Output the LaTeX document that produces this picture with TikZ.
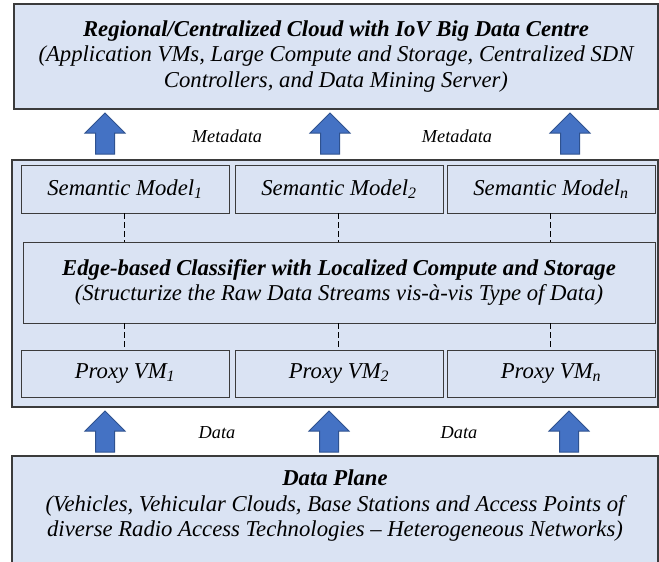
\documentclass[tikz,border=0pt]{standalone}
\usepackage{fontspec}
\setmainfont{Liberation Serif}
\usetikzlibrary{positioning}

\definecolor{boxfill}{HTML}{DAE3F3}
\definecolor{boxline}{HTML}{3B3B3B}
\definecolor{arrowfill}{HTML}{4472C4}
\definecolor{arrowline}{HTML}{2F528F}

\tikzset{
  layer/.style={draw=boxline, line width=1.3pt, fill=boxfill, align=center,
    font=\fontsize{22.7}{25.5}\selectfont\itshape},
  unit/.style={draw=boxline, line width=0.9pt, fill=boxfill, align=center,
    minimum width=208pt, minimum height=48pt, inner sep=0pt,
    font=\fontsize{22.7}{25.5}\selectfont\itshape},
  bigarrow/.style={draw=arrowline, line width=1pt, fill=arrowfill},
  flowlabel/.style={font=\fontsize{18.3}{21}\selectfont\itshape},
  link/.style={draw=black, dash pattern=on 6pt off 3pt, line width=1pt}
}

\begin{document}
\begin{tikzpicture}[x=1pt, y=-1pt]
    \useasboundingbox (0, 0) rectangle (659, 562);

    % cloud layer
    \node[layer, minimum width=644pt, minimum height=105pt] at (336, 56.5) (cloud)
        {\textbf{Regional/Centralized Cloud with IoV Big Data Centre}\\
         (Application VMs, Large Compute and Storage, Centralized SDN\\
         Controllers, and Data Mining Server)};

    % edge layer
    \node[layer, minimum width=646pt, minimum height=247pt] at (335, 283.5) (edge) {};
    \node[unit] at (125, 189)   (sm1) {Semantic Model\textsubscript{1}};
    \node[unit] at (339, 189)   (sm2) {Semantic Model\textsubscript{2}};
    \node[unit] at (551, 189)   (smn) {Semantic Model\textsubscript{n}};
    \node[unit, minimum width=632pt, minimum height=81pt] at (339, 282.5) (classifier)
        {\textbf{Edge-based Classifier with Localized Compute and Storage}\\
         (Structurize the Raw Data Streams vis-à-vis Type of Data)};
    \node[unit, minimum height=47pt] at (125, 373.5) (vm1) {Proxy VM\textsubscript{1}};
    \node[unit, minimum height=47pt] at (339, 373.5) (vm2) {Proxy VM\textsubscript{2}};
    \node[unit, minimum height=47pt] at (551, 373.5) (vmn) {Proxy VM\textsubscript{n}};

    \draw[link] (sm1.south -| 124, 0) -- (classifier.north -| 124, 0);
    \draw[link] (sm2.south -| 338, 0) -- (classifier.north -| 338, 0);
    \draw[link] (smn.south -| 550, 0) -- (classifier.north -| 550, 0);
    \draw[link] (classifier.south -| 124, 0) -- (vm1.north -| 124, 0);
    \draw[link] (classifier.south -| 338, 0) -- (vm2.north -| 338, 0);
    \draw[link] (classifier.south -| 550, 0) -- (vmn.north -| 550, 0);

    % data plane
    \node[layer, minimum width=646pt, minimum height=110pt] at (335, 511) (plane) {};
    \node[layer, draw=none, fill=none] at (335, 506) (planetext)
        {\textbf{Data Plane}\\
         (Vehicles, Vehicular Clouds, Base Stations and Access Points of\\
         diverse Radio Access Technologies -- Heterogeneous Networks)};

    % flow arrows
    \foreach \ax in {105, 330, 570} {
        \draw[bigarrow] (\ax-9.5, 154) -- (\ax-9.5, 133) -- (\ax-20, 133) -- (\ax, 113)
            -- (\ax+20, 133) -- (\ax+9.5, 133) -- (\ax+9.5, 154) -- cycle;
    }
    \foreach \ax in {105, 329, 569} {
        \draw[bigarrow] (\ax-9.5, 452) -- (\ax-9.5, 431) -- (\ax-20, 431) -- (\ax, 411)
            -- (\ax+20, 431) -- (\ax+9.5, 431) -- (\ax+9.5, 452) -- cycle;
    }
    \node[flowlabel] at (227, 136) (meta1) {Metadata};
    \node[flowlabel] at (457, 136) (meta2) {Metadata};
    \node[flowlabel] at (217, 433) (data1) {Data};
    \node[flowlabel] at (459, 433) (data2) {Data};
\end{tikzpicture}
\end{document}
